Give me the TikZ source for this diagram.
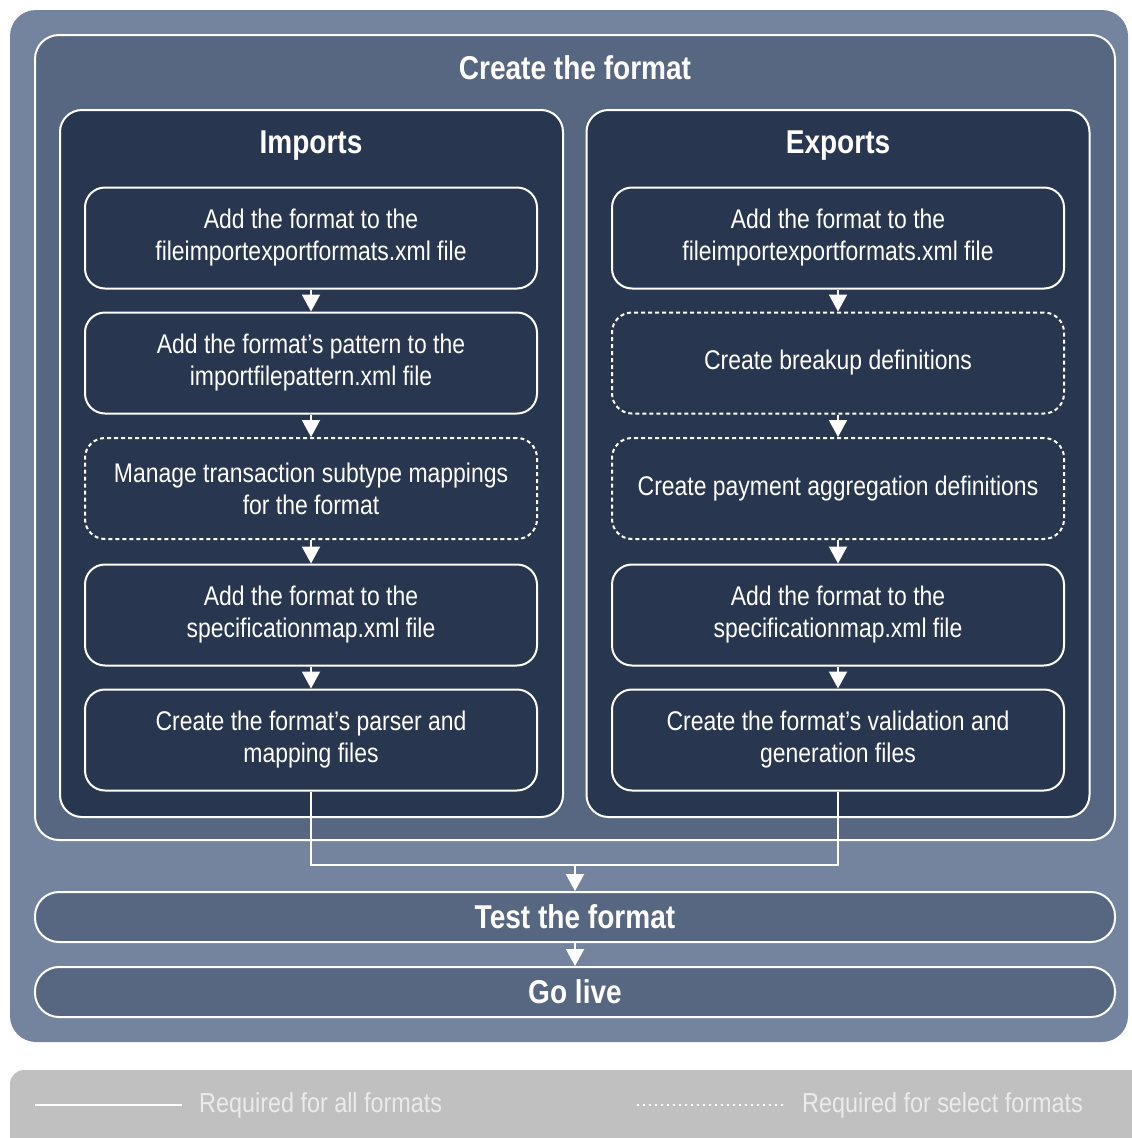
\documentclass[tikz,border=0pt]{standalone}
\usepackage{fontspec}
\setmainfont{Liberation Sans}[FakeStretch=0.85]
\usetikzlibrary{arrows.meta}
\definecolor{outerc}{HTML}{74849F}
\definecolor{midc}{HTML}{576781}
\definecolor{darkc}{HTML}{28364F}
\definecolor{legc}{HTML}{C0C0C0}
\definecolor{legtext}{HTML}{EBEBEB}
\tikzset{
  stepbox/.style={draw=white, line width=2pt, fill=darkc, rounded corners=20pt,
    minimum width=452pt, minimum height=101pt, align=center, text=white,
    font=\fontsize{27}{32}\selectfont, inner sep=0pt},
  optbox/.style={stepbox, dash pattern=on 4pt off 3pt},
  groupbox/.style={draw=white, line width=2pt, fill=darkc, rounded corners=22pt,
    minimum width=503pt, minimum height=707pt, inner sep=0pt},
  bandbox/.style={draw=white, line width=2pt, fill=midc, rounded corners=24pt,
    minimum width=1080pt, minimum height=50pt, text=white,
    font=\bfseries\fontsize{33}{36}\selectfont, inner sep=0pt},
  title/.style={text=white, font=\bfseries\fontsize{33}{36}\selectfont},
  flow/.style={draw=white, line width=2pt, -{Triangle[width=18pt,length=17pt]}},
  conn/.style={draw=white, line width=2pt},
  legtxt/.style={text=legtext, font=\fontsize{27.5}{30}\selectfont, anchor=west, inner sep=0pt}
}
\begin{document}
\begin{tikzpicture}[x=1pt,y=-1pt]
\useasboundingbox (0,0) rectangle (1132,1138);
% outer background
\fill[outerc, rounded corners=26pt] (10,10) rectangle (1128,1042);
% create the format
\node[draw=white, line width=2pt, fill=midc, rounded corners=24pt,
  minimum width=1080pt, minimum height=805pt, inner sep=0pt] (create) at (575,437.5) {};
\node[title] (createtitle) at (575,68) {Create the format};
% groups
\node[groupbox] (imports) at (311.5,463.5) {};
\node[groupbox] (exports) at (838,463.5) {};
\node[title] (imptitle) at (311,146) {Imports};
\node[title] (exptitle) at (838,146) {Exports};
% import steps
\node[stepbox] (i1) at (311,238) {Add the format to the\\fileimportexportformats.xml file};
\node[stepbox] (i2) at (311,363) {Add the format's pattern to the\\importfilepattern.xml file};
\node[optbox]  (i3) at (311,488.5) {Manage transaction subtype mappings\\for the format};
\node[stepbox] (i4) at (311,615) {Add the format to the\\specificationmap.xml file};
\node[stepbox] (i5) at (311,740) {Create the format's parser and\\mapping files};
% export steps
\node[stepbox] (e1) at (838,238) {Add the format to the\\fileimportexportformats.xml file};
\node[optbox]  (e2) at (838,363) {Create breakup definitions};
\node[optbox]  (e3) at (838,488.5) {Create payment aggregation definitions};
\node[stepbox] (e4) at (838,615) {Add the format to the\\specificationmap.xml file};
\node[stepbox] (e5) at (838,740) {Create the format's validation and\\generation files};
% arrows
\foreach \a/\b in {i1/i2,i2/i3,i3/i4,i4/i5,e1/e2,e2/e3,e3/e4,e4/e5}
  \draw[flow] (\a.south) -- (\b.north);
% test and go live
\node[bandbox] (test) at (575,917) {Test the format};
\node[bandbox] (golive) at (575,992) {Go live};
\coordinate (join) at (575,865);
\draw[conn] (i5.south) |- (join);
\draw[conn] (e5.south) |- (join);
\draw[flow] (join) -- (test.north);
\draw[flow] (test.south) -- (golive.north);
% legend
\fill[legc, rounded corners=14pt] (10,1070) rectangle (1150,1160);
\coordinate (l1a) at (35,1105);
\coordinate (l1b) at (182,1105);
\coordinate (l2a) at (637,1105);
\coordinate (l2b) at (786,1105);
\draw[white, line width=1.6pt] (l1a) -- (l1b);
\draw[white, line width=1.6pt, dash pattern=on 2pt off 4pt] (l2a) -- (l2b);
\node[legtxt] (leg1) at (199,1105) {Required for all formats};
\node[legtxt] (leg2) at (802,1105) {Required for select formats};
\end{tikzpicture}
\end{document}
